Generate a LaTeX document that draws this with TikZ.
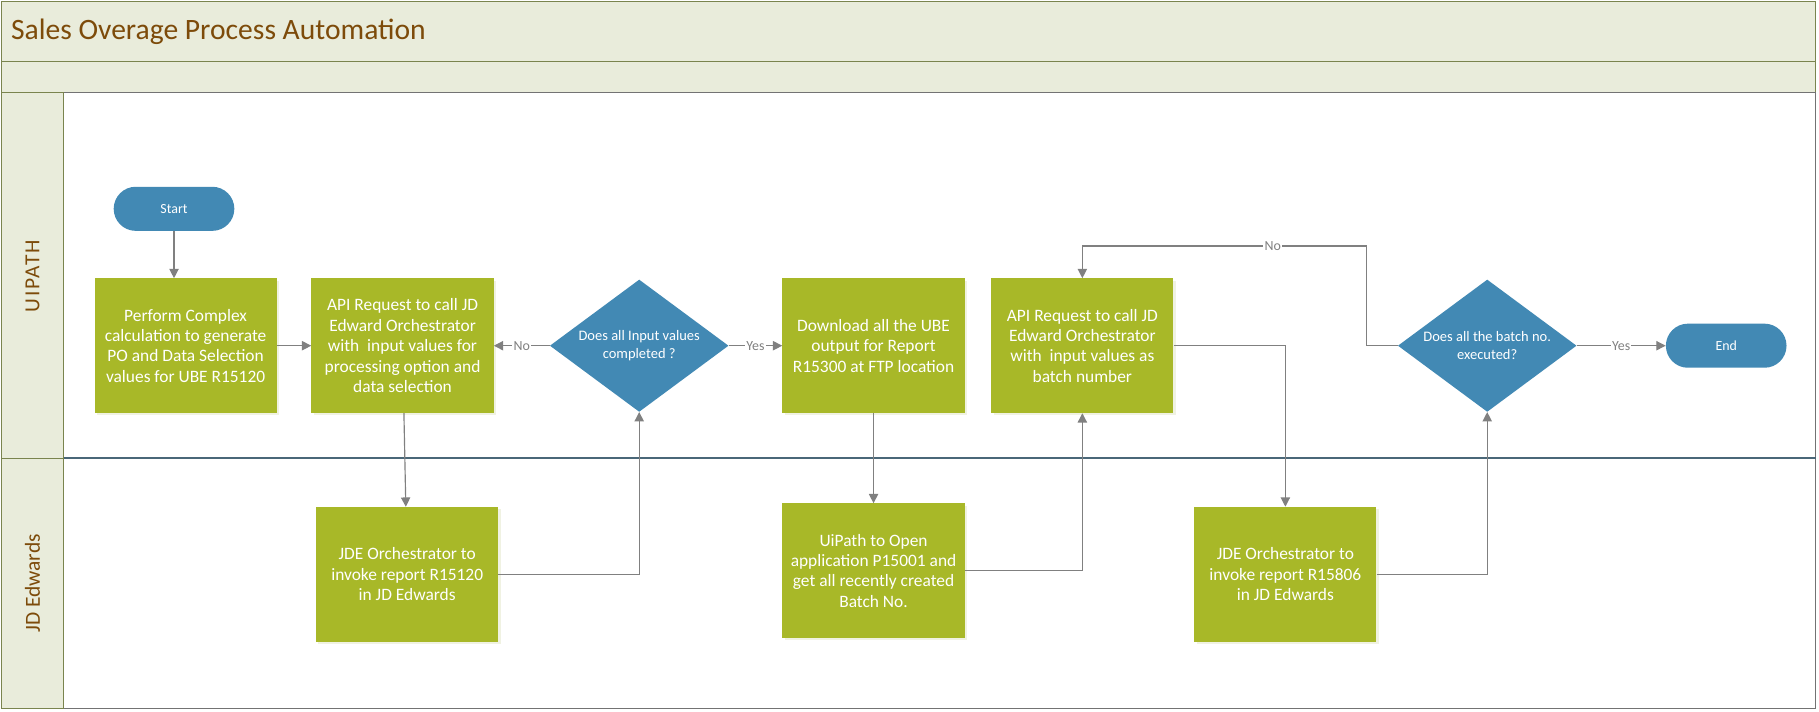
\documentclass[tikz,border=0pt]{standalone}
\usepackage{fontspec}
\setmainfont{Carlito}
\usetikzlibrary{arrows.meta,shapes.geometric,shadows}
\definecolor{boxgreen}{RGB}{168,184,40}
\definecolor{boxblue}{RGB}{66,137,180}
\definecolor{bandfill}{RGB}{233,236,219}
\definecolor{olive}{RGB}{122,132,78}
\definecolor{brownt}{RGB}{125,75,10}
\definecolor{slate}{RGB}{74,103,120}
\definecolor{linegray}{RGB}{128,128,128}
\definecolor{shadowc}{RGB}{240,242,226}
\begin{document}
\begin{tikzpicture}[x=1pt,y=-1pt,
  band/.style={fill=bandfill,draw=olive,line width=1pt},
  procbox/.style={rectangle,fill=boxgreen,text=white,minimum width=157pt,minimum height=116pt,
    align=center,inner sep=0pt,font=\fontsize{15}{17.6}\selectfont,
    drop shadow={shadow xshift=2pt,shadow yshift=-2pt,fill=shadowc,opacity=1}},
  decide/.style={diamond,aspect=1.35,fill=boxblue,text=white,minimum width=154pt,minimum height=114pt,
    align=center,inner sep=0pt,font=\fontsize{12.5}{15}\selectfont},
  terminal/.style={rectangle,rounded corners=19pt,fill=boxblue,text=white,minimum width=104pt,
    minimum height=38pt,inner sep=0pt,font=\fontsize{12}{14}\selectfont},
  conn/.style={draw=linegray,line width=1pt,-{Triangle[length=8pt,width=8pt]}},
  lbl/.style={fill=white,inner sep=1pt,text=linegray,font=\fontsize{12}{14}\selectfont},
  lanetitle/.style={text=brownt,font=\fontsize{18.5}{20}\selectfont,rotate=90}
]
\useasboundingbox (0,0) rectangle (1568,613);
% frame
\path[band] (1,1) rectangle (1565,53);
\path[band] (1,53) rectangle (1565,80);
\draw[draw=gray!90!black,line width=1pt,fill=white] (55,80) rectangle (1565,611);
\path[band] (1,80) rectangle (55,395);
\path[band] (1,395) rectangle (55,611);
\draw[slate,line width=2pt] (55,395) -- (1565,395);
\node[anchor=west,text=brownt,font=\fontsize{25.5}{30}\selectfont] (title) at (6,27) {Sales Overage Process Automation};
\node[lanetitle] (lane1) at (28,238) {\addfontfeatures{LetterSpace=8}UIPATH};
\node[lanetitle] (lane2) at (28,503) {JD Edwards};
% nodes
\node[terminal] (start) at (150,180) {Start};
\node[procbox] (perf) at (160,298) {Perform Complex\\calculation to generate\\PO and Data Selection\\values for UBE R15120};
\node[procbox] (api1) at (347,298) {API Request to call JD\\Edward Orchestrator\\with\ \ input values for\\processing option and\\data selection};
\node[decide] (d1) at (551,298) {Does all Input values\\completed ?};
\node[procbox] (dl) at (753,298) {Download all the UBE\\output for Report\\R15300 at FTP location};
\node[procbox] (api2) at (933,298) {API Request to call JD\\Edward Orchestrator\\with\ \ input values as\\batch number};
\node[decide] (d2) at (1282,298) {Does all the batch no.\\executed?};
\node[terminal] (endn) at (1488,298) {End};
\node[procbox] (jde1) at (351,495) {JDE Orchestrator to\\invoke report R15120\\in JD Edwards};
\node[procbox] (uip) at (753,492) {UiPath to Open\\application P15001 and\\get all recently created\\Batch No.};
\node[procbox] (jde2) at (1108,495) {JDE Orchestrator to\\invoke report R15806\\in JD Edwards};
\coordinate (nocorner) at (1178,212);
\coordinate (notop) at (933,212);
% connectors
\draw[conn] (start.south) -- (start.south |- perf.north);
\draw[conn] (perf) -- (api1);
\draw[conn] (d1) -- node[lbl]{No} (api1);
\draw[conn] (d1) -- node[lbl]{Yes} (dl);
\draw[conn] (api1) -- (jde1);
\draw[conn] (jde1.east) -| (d1.south);
\draw[conn] (dl) -- (uip);
\draw[conn] (uip.east) -| (api2.south);
\draw[conn] (api2.east) -| (jde2.north);
\draw[conn] (jde2.east) -| (d2.south);
\draw[conn] (d2.west) -| (nocorner) -- node[lbl,pos=0.33]{No} (notop) -- (api2.north);
\draw[conn] (d2) -- node[lbl]{Yes} (endn);
\end{tikzpicture}
\end{document}
